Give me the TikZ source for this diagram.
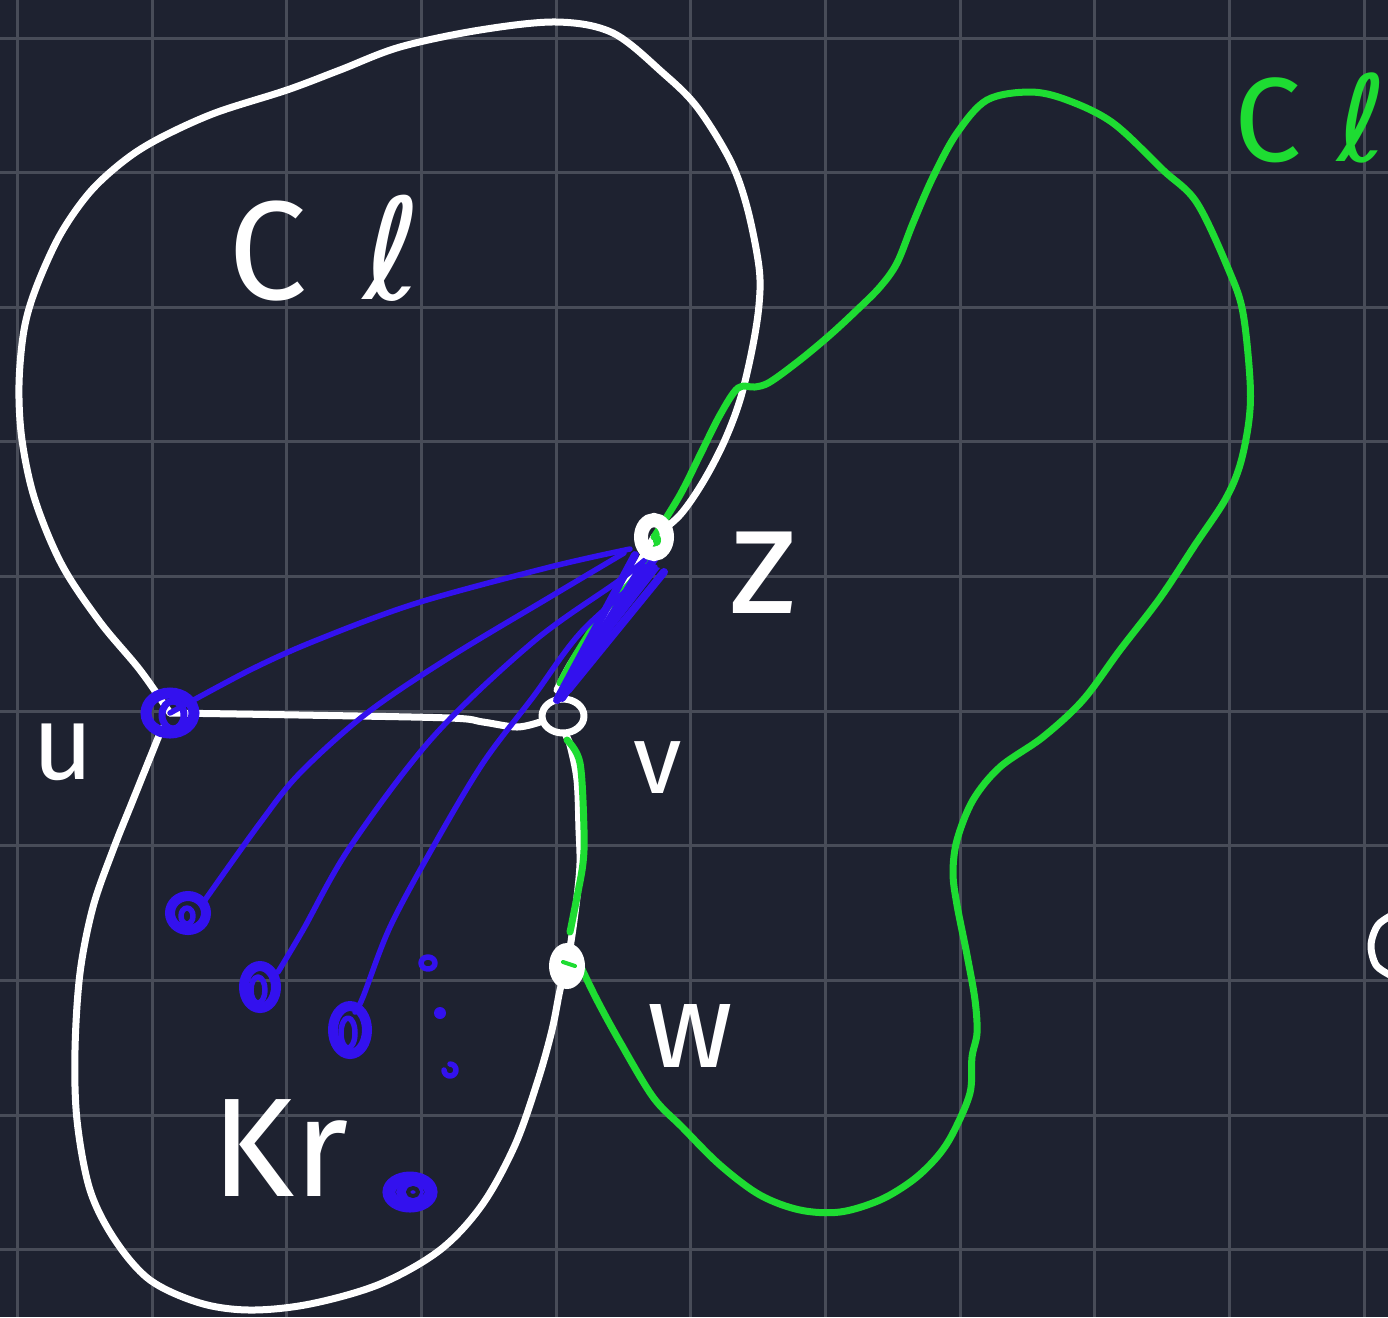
\documentclass[tikz,border=0pt]{standalone}
\usepackage{fontspec}
\setmainfont{Fira Sans}
\newfontfamily\ellfont{DejaVu Sans}
\definecolor{bgc}{RGB}{30,34,48}
\definecolor{gridc}{RGB}{72,76,88}
\definecolor{gc}{RGB}{30,220,50}
\definecolor{bc}{RGB}{51,17,238}
\newcommand{\myell}{{\ellfont ℓ}}
\begin{document}
\begin{tikzpicture}[x=0.01cm,y=-0.01cm,
  gridline/.style={draw=gridc,line width=0.3mm},
  wstroke/.style={draw=white,line width=0.7mm,line cap=round,line join=round},
  gstroke/.style={draw=gc,line width=0.7mm,line cap=round,line join=round},
  bstroke/.style={draw=bc,line width=0.55mm,line cap=round,line join=round},
  bthick/.style={draw=bc,line width=0.8mm,line cap=round,line join=round},
  bvert/.style={draw=bc,line width=1.0mm},
  wlbl/.style={text=white,inner sep=0pt},
  glbl/.style={text=gc,inner sep=0pt},
  sm/.style={smooth,tension=0.55}]
% canvas
\useasboundingbox (0,0) rectangle (1388,1317);
\clip (0,0) rectangle (1388,1317);
\fill[bgc] (0,0) rectangle (1388,1317);
\foreach \k in {0,...,10} \draw[gridline] ({17.5+134.65*\k},0) -- ({17.5+134.65*\k},1317);
\foreach \k in {0,...,9} \draw[gridline] (0,{38+134.65*\k}) -- (1388,{38+134.65*\k});

% vertex positions
\coordinate (u) at (170,713);
\coordinate (v) at (563,716);
\coordinate (z) at (654,537);
\coordinate (w) at (567,966);
\coordinate (a) at (188,913);
\coordinate (b) at (260,987);
\coordinate (c) at (350,1030);
\coordinate (d) at (410,1192);

% white outline of Cl (upper blob), ending at z and going on to v
\draw[wstroke] plot[sm] coordinates {(u) (140,670) (100,622) (62,565) (35,500) (22,440) (19,385) (24,330) (36,288) (60,235) (90,192) (125,160) (160,138) (215,113) (287,90) (340,70) (400,47) (480,30) (557,22) (613,33) (663,73) (697,107) (730,160) (747,207) (759,267) (759,305) (752,350) (740,400) (724,442) (703,482) (680,515) (z)};
\draw[wstroke] plot[sm] coordinates {(z) (620,595) (593,630) (570,665) (557,690)};

% white outline of Kr (lower blob)
\draw[wstroke] plot[sm] coordinates {(162,728) (133,800) (113,850) (93,907) (80,973) (75,1050) (77,1120) (90,1190) (115,1240) (150,1280) (200,1303) (250,1310) (310,1304) (380,1284) (440,1250) (482,1205) (515,1145) (538,1080) (552,1030) (560,990) (w)};
\draw[wstroke] plot[sm] coordinates {(w) (572,935) (577,897) (580,863) (579,830) (577,780) (570,745) (566,736)};

% edge u -- v
\draw[wstroke] plot[sm] coordinates {(u) (300,715) (450,718) (483,722) (517,727) (540,722)};
\draw[wstroke] (v) ellipse [x radius=21, y radius=17];

% green cycle Cl
\draw[gstroke] plot[sm] coordinates {(z) (680,495) (700,455) (720,415) (738,388) (755,387) (770,382) (800,360) (830,335) (857,310) (880,287) (897,263) (913,223) (933,177) (957,133) (987,100) (1030,92) (1067,100) (1113,123) (1163,170) (1197,203) (1230,273) (1243,313) (1250,380) (1249,420) (1240,465) (1225,500) (1195,545) (1160,598) (1120,650) (1083,700) (1043,737) (1000,767) (973,800) (957,840) (953,873) (957,905) (967,955) (975,1000) (977,1033) (972,1057) (970,1093) (953,1133) (937,1157) (913,1180) (880,1200) (840,1212) (800,1210) (760,1195) (720,1165) (682,1127) (653,1097) (620,1042) (597,1000) (580,965)};
\draw[gstroke] plot[sm] coordinates {(658,545) (633,580) (603,613) (577,653) (560,683)};
\draw[gstroke] plot[sm] coordinates {(567,740) (580,763) (584,830) (583,863) (577,897) (570,932)};

% blue edges from z
\draw[bstroke] plot[sm] coordinates {(630,549) (550,567) (417,603) (317,640) (250,670) (u)};
\draw[bstroke] plot[sm] coordinates {(624,553) (550,597) (450,657) (367,713) (300,773) (260,823) (205,900)};
\draw[bstroke] plot[sm] coordinates {(645,560) (617,582) (533,642) (433,737) (350,847) (303,930) (278,972)};
\draw[bstroke] plot[sm] coordinates {(655,567) (583,630) (533,697) (483,763) (433,847) (390,927) (363,997) (355,1012)};
% thick bundle z -- v
\fill[bc] (640,562) -- (660,568) -- (598,648) -- (562,700) -- (556,699) -- (592,640) -- cycle;
\draw[bthick] (635,555) -- (557,700);
\draw[bthick] (658,553) -- (562,698);
\draw[bthick] (664,572) -- (568,690);

% vertex z and w (white)
\draw[draw=white,line width=1.4mm] (z) ellipse [x radius=13, y radius=17];
\fill[gc] (657,540) ellipse [x radius=4, y radius=6];
\fill[white] (w) ellipse [x radius=18, y radius=23];
\draw[gstroke,line width=0.4mm] (563,962) -- (575,966);

% blue vertices
\draw[bvert,line width=1.1mm] (u) ellipse [x radius=24, y radius=20];
\draw[bvert,line width=0.7mm] (173,715) ellipse [x radius=11, y radius=14];
\draw[bvert] (a) ellipse [x radius=18, y radius=17];
\draw[bstroke] (187,916) ellipse [x radius=6, y radius=8];
\draw[bvert] (b) ellipse [x radius=16, y radius=21];
\draw[bstroke] (258,990) ellipse [x radius=7, y radius=13];
\draw[bvert] (c) ellipse [x radius=17, y radius=24];
\draw[bstroke] (348,1033) ellipse [x radius=7, y radius=15];
\draw[bvert,line width=1.3mm] (d) ellipse [x radius=21, y radius=14];
\fill[bc] (d) ellipse [x radius=14, y radius=9];
\draw[bstroke,line width=0.4mm,draw=bgc] (413,1192) ellipse [x radius=5, y radius=4];
\draw[bstroke] (428,963) ellipse [x radius=7, y radius=6];
\fill[bc] (440,1013) circle (6);
\draw[bstroke] (444,1070) arc (180:-90:6);

% labels
\node[wlbl,font=\fontsize{40}{42}\selectfont,anchor=west] (lcl) at (228,248) {C\hspace{0.4em}\myell};
\node[wlbl,font=\fontsize{44}{46}\selectfont] (lz) at (763,573) {z};
\node[wlbl,font=\fontsize{30}{32}\selectfont] (lu) at (63,752) {u};
\node[wlbl,font=\fontsize{28}{30}\selectfont] (lv) at (658,768) {v};
\node[wlbl,font=\fontsize{34}{36}\selectfont] (lw) at (690,1036) {w};
\node[wlbl,font=\fontsize{40}{42}\selectfont] (lkr) at (280,1148) {Kr};
\node[glbl,font=\fontsize{34}{36}\selectfont,anchor=west] (lcl2) at (1234,118) {C\hspace{0.3em}\myell};
\draw[wstroke] plot[sm] coordinates {(1394,914) (1378,925) (1371,945) (1376,965) (1390,975)};
\end{tikzpicture}
\end{document}
